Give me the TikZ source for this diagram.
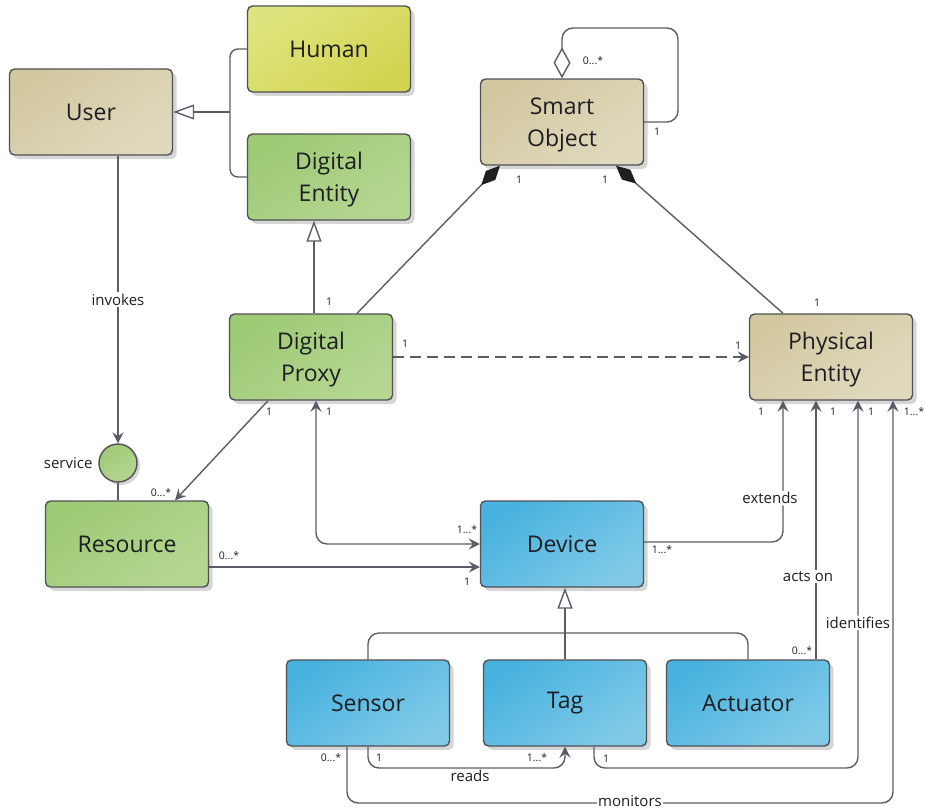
\documentclass[tikz,border=0pt]{standalone}
\usepackage{fontspec}
\setmainfont{Open Sans}
\usetikzlibrary{arrows.meta,shadows,calc}
\definecolor{lc}{RGB}{92,92,104}
\definecolor{bord}{RGB}{80,80,86}
\definecolor{tanA}{RGB}{210,200,160}
\definecolor{tanB}{RGB}{224,217,190}
\definecolor{yelA}{RGB}{222,228,125}
\definecolor{yelB}{RGB}{210,212,80}
\definecolor{grnA}{RGB}{158,202,118}
\definecolor{grnB}{RGB}{180,214,145}
\definecolor{bluA}{RGB}{72,178,222}
\definecolor{bluB}{RGB}{128,202,232}
\definecolor{txt}{RGB}{30,30,34}
\tikzset{
  box/.style={draw=bord, line width=1.4pt, rounded corners=5pt,
    minimum width=163pt, minimum height=86pt, align=center, text=txt,
    font=\fontsize{23}{32}\selectfont,
    drop shadow={shadow xshift=4pt, shadow yshift=-4pt, fill=black!16, opacity=1}},
  twoline/.style={text depth=0pt},
  tanbox/.style={box, top color=tanA, bottom color=tanB, shading angle=35},
  yelbox/.style={box, top color=yelA, bottom color=yelB, shading angle=35},
  grnbox/.style={box, top color=grnA, bottom color=grnB, shading angle=35},
  blubox/.style={box, top color=bluA, bottom color=bluB, shading angle=35},
  svcnode/.style={circle, draw=bord, line width=1.4pt, minimum size=38pt, inner sep=0pt,
    top color=grnA, bottom color=grnB, shading angle=35,
    drop shadow={shadow xshift=3pt, shadow yshift=-3pt, fill=black!16, opacity=1}},
  conn/.style={draw=lc, line width=1.4pt},
  tip/.tip={Stealth[length=11pt, width=11pt, inset=4pt, fill=lc]},
  gen/.tip={Triangle[open, length=21pt, width=15pt, fill=white]},
  comp/.tip={Diamond[length=27pt, width=13pt, color=black!88, fill=black!88]},
  aggr/.tip={Diamond[open, length=31pt, width=17pt, fill=white]},
  lbl/.style={font=\fontsize{15}{17}\selectfont, text=txt, fill=white, inner sep=1.5pt},
  mult/.style={font=\fontsize{10.5}{12}\selectfont, text=txt, inner sep=0pt},
}
\begin{document}
\begin{tikzpicture}[x=1pt, y=-1pt]
\useasboundingbox (0,0) rectangle (925,811);

% classes
\node[tanbox] (user) at (91,112) {User};
\node[yelbox] (hum) at (329,49) {Human};
\node[grnbox, twoline] (dent) at (329,177) {Digital\\Entity};
\node[tanbox, twoline] (sobj) at (562,122) {Smart\\Object};
\node[grnbox, twoline] (dprox) at (311,357) {Digital\\Proxy};
\node[tanbox, twoline] (pent) at (831,357) {Physical\\Entity};
\node[grnbox] (res) at (127,544) {Resource};
\node[blubox] (dev) at (562,544) {Device};
\node[blubox] (sen) at (368,703) {Sensor};
\node[blubox] (tag) at (565,703) {Tag};
\node[blubox] (act) at (748,703) {Actuator};
\node[svcnode] (svc) at (118,463) {};

% helper coordinates
\coordinate (ujoin) at (230,112);
\coordinate (loop) at (678,28);
\coordinate (idc) at (858,768);
\coordinate (monc) at (893,803);
\coordinate (rdc) at (565,768);
\coordinate (bar) at (565,633);

% generalization Human / Digital Entity -> User
\draw[conn, rounded corners=8pt] (hum.west) -| (ujoin) |- (dent.west);
\draw[conn, -{gen}] (ujoin) -- (user.east);

% Digital Proxy -> Digital Entity
\draw[conn, -{gen}] ([xshift=3pt]dprox.north) -- ([xshift=-15pt]dent.south);

% compositions to Smart Object
\draw[conn, -{comp}] ([xshift=46pt]dprox.north) -- ([xshift=-62pt]sobj.south);
\draw[conn, -{comp}] ([xshift=-48pt]pent.north) -- ([xshift=54pt]sobj.south);

% self aggregation
\draw[conn, rounded corners=11pt, {aggr}-] (sobj.north) |- (loop) |- (sobj.east);

% Digital Proxy - - -> Physical Entity
\draw[conn, dash pattern=on 11pt off 6pt, -{tip}] (dprox.east) -- (pent.west);

% User invokes service
\draw[conn, -{tip}] (user.south -| svc.north) -- node[lbl, pos=0.5] {invokes} (svc.north);
\draw[conn] (svc.south) -- (svc.south |- res.north);
\node[font=\fontsize{15}{17}\selectfont, text=txt, anchor=east] (svclbl) at (96,463) {service};

% Digital Proxy -> Resource
\draw[conn, -{tip}] ([xshift=-43pt]dprox.south) -- ([xshift=48pt]res.north);

% Digital Proxy <-> Device
\draw[conn, rounded corners=11pt, {tip}-{tip}] ([xshift=5pt]dprox.south) |- (dev.west);

% Resource -> Device
\draw[conn, -{tip}] ([yshift=-23pt]res.east) -- ([yshift=-23pt]dev.west);

% Device extends Physical Entity
\draw[conn, rounded corners=11pt, -{tip}] ([yshift=2pt]dev.east) -| node[lbl, pos=0.655, xshift=-13pt] {extends} ([xshift=-48pt]pent.south);

% Actuator acts on Physical Entity
\draw[conn, -{tip}] ([xshift=68pt]act.north) -- node[lbl, pos=0.32, xshift=-8pt] {acts on} ([xshift=68pt]act.north |- pent.south);

% Tag identifies Physical Entity
\draw[conn, rounded corners=11pt, -{tip}] ([xshift=29pt]tag.south) |- (idc) -- node[lbl, pos=0.395] {identifies} (idc |- pent.south);

% Sensor monitors Physical Entity
\draw[conn, rounded corners=11pt, -{tip}] ([xshift=-21pt]sen.south) |- (monc) -- (monc |- pent.south);
\node[lbl, inner sep=1pt] (monlbl) at (630,801) {monitors};

% Sensor reads Tag
\draw[conn, rounded corners=11pt, -{tip}] (sen.south) |- (rdc) -- (tag.south);
\node[lbl, inner sep=1pt] (rdlbl) at (470,776) {reads};

% generalization Sensor / Tag / Actuator -> Device
\draw[conn, rounded corners=11pt] (sen.north) |- (bar) -| (act.north);
\draw[conn, -{gen}] (tag.north) -- (tag.north |- dev.south);

% multiplicities
\node[mult] (m1) at (329,302) {1};
\node[mult] (m2) at (519,180) {1};
\node[mult] (m3) at (605,180) {1};
\node[mult] (m4) at (593,61) {0...*};
\node[mult] (m5) at (657,132) {1};
\node[mult] (m6) at (817,303) {1};
\node[mult] (m7) at (405,344) {1};
\node[mult] (m8) at (738,346) {1};
\node[mult] (m9) at (269,412) {1};
\node[mult] (m10) at (161,493) {0...*};
\node[mult] (m11) at (329,412) {1};
\node[mult] (m12) at (467,530) {1...*};
\node[mult] (m13) at (229,556) {0...*};
\node[mult] (m14) at (467,582) {1};
\node[mult] (m15) at (662,550) {1...*};
\node[mult] (m16) at (761,412) {1};
\node[mult] (m17) at (833,412) {1};
\node[mult] (m18) at (871,412) {1};
\node[mult] (m19) at (914,412) {1...*};
\node[mult] (m20) at (802,651) {0...*};
\node[mult] (m21) at (331,758) {0...*};
\node[mult] (m22) at (379,758) {1};
\node[mult] (m23) at (537,758) {1...*};
\node[mult] (m24) at (606,759) {1};
\end{tikzpicture}
\end{document}
